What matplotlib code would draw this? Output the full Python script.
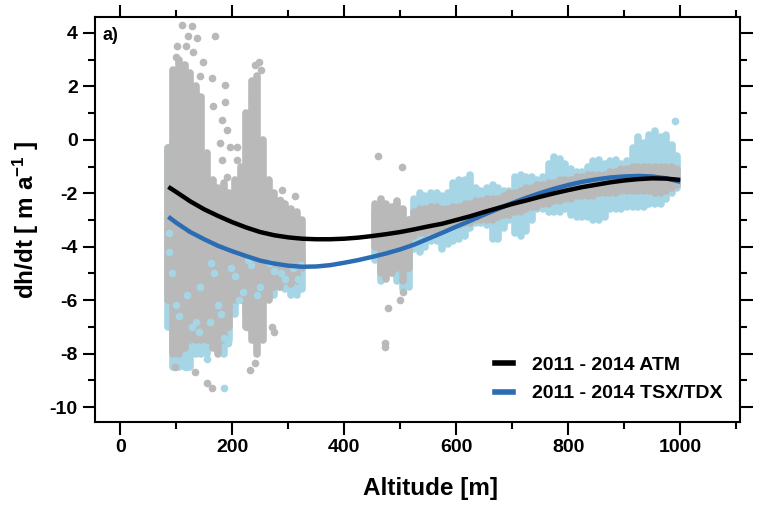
import matplotlib as mpl
mpl.use('Agg')
import numpy as np
import matplotlib.pyplot as plt
from matplotlib.lines import Line2D

plt.rcParams['font.family'] = ['Liberation Sans', 'DejaVu Sans']
plt.rcParams['font.weight'] = 'bold'
plt.rcParams['mathtext.default'] = 'regular'
plt.rcParams['axes.unicode_minus'] = False

# dense point clouds read per altitude column: altitude [m], lowest / highest dh/dt
atm_alt = [85, 95, 105, 115, 125, 135, 145, 155, 165, 175, 185, 195, 205, 215, 225, 235, 245, 255,
           265, 275, 285, 295, 305, 315, 325,
           455, 465, 475, 485, 495, 505, 515,
           525, 535, 545, 555, 565, 575, 585, 595, 605, 615, 625, 635, 645, 655, 665, 675, 685,
           695, 705, 715, 725, 735, 745, 755, 765, 775, 785, 795, 805, 815, 825, 835, 845, 855,
           865, 875, 885, 895, 905, 915, 925, 935, 945, 955, 965, 975, 985, 995]
atm_lo = [-6.0, -8.0, -8.0, -7.8, -7.5, -7.5, -7.5, -7.5, -7.8, -8.0, -7.5, -7.0, -6.0, -6.0, -7.0, -7.5, -8.0, -7.5,
          -6.0, -5.5, -5.5, -5.3, -5.4, -5.3, -4.8,
          -4.0, -5.0, -5.2, -5.0, -4.8, -5.3, -4.8,
          -3.6, -3.5, -3.5, -3.4, -3.4, -3.3, -3.3, -3.2, -3.2, -3.1, -3.1, -3.0, -3.0, -3.0, -3.0, -2.9, -2.8,
          -2.8, -2.7, -2.7, -2.6, -2.5, -2.5, -2.4, -2.4, -2.3, -2.3, -2.2, -2.2, -2.1, -2.1, -2.1, -2.1, -2.0,
          -2.0, -2.0, -2.0, -1.9, -1.9, -1.9, -1.9, -1.9, -1.9, -2.0, -2.0, -1.9, -1.8, -1.7]
atm_hi = [-0.3, 2.6, 3.0, 2.8, 2.5, 2.0, 1.6, -0.5, -1.5, -1.8, -1.6, -2.0, -1.5, -1.0, 1.0, 2.2, 2.4, 0.0,
          -1.5, -2.0, -2.3, -2.4, -2.6, -2.7, -3.0,
          -2.4, -2.2, -2.4, -2.5, -2.3, -2.6, -3.0,
          -2.7, -2.6, -2.6, -2.5, -2.5, -2.6, -2.6, -2.5, -2.5, -2.4, -2.4, -2.3, -2.3, -2.2, -2.2, -2.2, -2.1,
          -2.0, -2.0, -1.9, -1.8, -1.8, -1.7, -1.7, -1.6, -1.6, -1.5, -1.5, -1.5, -1.4, -1.4, -1.3, -1.3, -1.3,
          -1.3, -1.2, -1.2, -1.1, -1.1, -1.0, -1.0, -1.0, -1.0, -1.0, -1.0, -1.0, -1.0, -1.1]

tsx_alt = [85, 95, 105, 115, 125, 135, 145, 155, 165, 175, 185, 195, 205, 215, 225, 235, 245, 255,
           265, 275, 285, 295, 305, 315, 325,
           455, 465, 475, 485, 495, 505, 515,
           525, 535, 545, 555, 565, 575, 585, 595, 605, 615, 625, 635, 645, 655, 665, 675, 685,
           695, 705, 715, 725, 735, 745, 755, 765, 775, 785, 795, 805, 815, 825, 835, 845, 855,
           865, 875, 885, 895, 905, 915, 925, 935, 945, 955, 965, 975, 985, 995]
tsx_lo = [-7.0, -8.5, -8.5, -8.5, -8.5, -8.0, -8.0, -8.0, -7.5, -7.5, -8.0, -7.5, -6.5, -6.0, -6.5, -6.0, -6.5, -6.0,
          -5.5, -5.8, -5.5, -5.6, -5.8, -5.8, -5.6,
          -4.5, -5.3, -5.0, -5.0, -5.3, -5.6, -5.5,
          -4.1, -4.2, -4.0, -3.8, -3.8, -4.1, -3.9, -3.8, -3.7, -3.6, -3.3, -3.1, -3.1, -3.2, -3.7, -3.7, -3.3,
          -3.0, -3.5, -3.6, -3.4, -3.0, -2.6, -2.6, -2.7, -2.7, -2.7, -2.6, -2.8, -2.9, -2.9, -2.9, -3.0, -3.0,
          -2.9, -2.6, -2.6, -2.6, -2.5, -2.5, -2.5, -2.5, -2.4, -2.4, -2.4, -2.2, -2.0, -1.8]
tsx_hi = [-0.3, 0.0, 0.0, -0.5, -1.0, -2.0, -3.0, -3.5, -3.5, -3.5, -3.8, -4.0, -3.5, -3.5, -3.5, -3.5, -4.0, -4.0,
          -3.5, -3.8, -4.0, -4.2, -4.0, -4.2, -4.3,
          -2.8, -2.9, -3.2, -3.3, -3.5, -3.5, -3.0,
          -2.2, -2.0, -2.1, -2.0, -2.0, -2.1, -2.0, -1.6, -1.5, -1.5, -1.3, -1.8, -1.9, -1.8, -1.7, -1.8, -1.9,
          -1.9, -1.4, -1.3, -1.4, -1.4, -1.5, -1.4, -0.9, -0.65, -0.7, -0.9, -1.1, -1.2, -1.2, -1.0, -0.8, -0.75,
          -0.9, -0.8, -0.75, -0.9, -0.8, -0.3, 0.1, -0.1, 0.2, 0.35, 0.1, 0.2, -0.2, -0.6]

# blue dots showing through the grey cloud
tsx_spot_alt = [88, 88, 92, 100, 105, 112, 118, 128, 135, 142, 150, 155, 163, 168, 175, 180, 186, 192, 198,
                205, 213, 220, 228, 233, 245, 250, 268, 275, 288, 295, 308, 318, 322, 140, 120, 160]
tsx_spot_val = [-3.5, -4.2, -5.0, -6.2, -6.6, -8.3, -8.5, -7.0, -6.8, -5.5, -7.8, -8.2, -4.6, -5.0, -6.2, -6.5,
                -7.4, -7.6, -4.8, -5.1, -6.0, -5.7, -4.5, -4.7, -5.8, -5.5, -4.6, -4.9, -5.0, -5.2, -4.8, -5.2,
                -4.7, -7.2, -5.8, -6.8]

# scattered single points
atm_pts_alt = [110, 128, 121, 137, 170, 102, 148, 164, 188, 188, 166, 182, 191, 179, 196, 182, 209, 191, 218,
               247, 238, 236, 209, 289, 312, 286, 300, 98, 134, 155, 164, 232, 241, 227, 205, 271, 274,
               461, 503, 479, 505, 500, 473, 473, 100, 118, 130, 142, 240, 252]
atm_pts_val = [4.3, 4.27, 3.9, 3.8, 3.9, 3.5, 2.9, 2.3, 2.06, 1.4, 1.25, 0.75, 0.37, -0.1, -0.25, -0.75, -0.75, -1.4, -1.25,
               2.9, 2.1, 1.5, -0.25, -1.87, -2.1, -2.25, -3.0, -8.5, -8.7, -9.1, -9.3, -8.6, -8.35, -7.0, -5.9, -7.0, -7.2,
               -0.6, -1.0, -6.3, -5.7, -6.0, -7.6, -7.75, 3.1, 3.5, 3.3, 2.4, 2.8, 2.6]
tsx_pts_alt = [186, 990]
tsx_pts_val = [-9.3, 0.7]

# fitted curves
fit_alt = [86, 100, 125, 150, 175, 200, 225, 250, 275, 300, 325, 350, 375, 400, 425, 450, 475, 500, 525,
           550, 575, 600, 625, 650, 675, 700, 725, 750, 775, 800, 825, 850, 875, 900, 925, 950, 975, 1000]
atm_fit = [-1.76, -1.95, -2.3, -2.6, -2.85, -3.08, -3.28, -3.45, -3.57, -3.65, -3.7, -3.72, -3.72, -3.7, -3.66,
           -3.6, -3.53, -3.45, -3.35, -3.24, -3.14, -3.0, -2.86, -2.7, -2.55, -2.4, -2.27, -2.13, -2.0, -1.88,
           -1.77, -1.68, -1.59, -1.52, -1.47, -1.44, -1.45, -1.5]
tsx_fit = [-2.88, -3.1, -3.45, -3.72, -3.97, -4.17, -4.35, -4.52, -4.63, -4.71, -4.75, -4.74, -4.69, -4.6, -4.5,
           -4.38, -4.25, -4.1, -3.92, -3.7, -3.48, -3.25, -3.03, -2.8, -2.58, -2.37, -2.17, -1.99, -1.83, -1.69,
           -1.57, -1.48, -1.41, -1.37, -1.35, -1.37, -1.44, -1.57]

grey = '#b9b9b9'
lblue = '#a6d6e6'
dblue = '#2b6cb3'
dot_lw = 5.5

fig = plt.figure(figsize=(7.68, 5.05), dpi=100)
ax = fig.add_axes([0.1237, 0.1644, 0.84, 0.802])

ax.vlines(tsx_alt, tsx_lo, tsx_hi, color=lblue, lw=dot_lw, capstyle='round', zorder=1)
ax.scatter(tsx_pts_alt, tsx_pts_val, s=dot_lw**2, color=lblue, lw=0, zorder=1)
ax.vlines(atm_alt, atm_lo, atm_hi, color=grey, lw=dot_lw, capstyle='round', zorder=2)
ax.scatter(atm_pts_alt, atm_pts_val, s=dot_lw**2, color=grey, lw=0, zorder=2)
ax.scatter(tsx_spot_alt, tsx_spot_val, s=dot_lw**2, color=lblue, lw=0, zorder=3)

ax.plot(fit_alt, atm_fit, color='black', lw=3.2, solid_capstyle='butt', zorder=5)
ax.plot(fit_alt, tsx_fit, color=dblue, lw=3.2, solid_capstyle='butt', zorder=4)

ax.set_xlim(-45, 1107)
ax.set_ylim(-10.56, 4.6)
ax.set_xticks(np.arange(0, 1001, 200))
ax.set_xticks(np.arange(100, 1101, 200), minor=True)
ax.set_yticks(np.arange(-10, 5, 2))
ax.set_yticks(np.arange(-9, 5, 2), minor=True)
ax.tick_params(which='both', direction='out', width=1.5, top=True, right=True, labelsize=14)
ax.tick_params(which='major', length=9)
ax.tick_params(which='minor', length=5)
for s in ax.spines.values():
    s.set_linewidth(1.5)

ax.set_xlabel('Altitude [m]', fontsize=17.5, fontweight='bold')
ax.xaxis.set_label_coords(0.52, -0.135)
ax.set_ylabel(r'dh/dt [ m a$^{-1}$ ]', fontsize=17.5, fontweight='bold', labelpad=6)
ax.text(0.012, 0.975, 'a)', transform=ax.transAxes, fontsize=13, fontweight='bold', va='top', ha='left')

handles = [Line2D([], [], color='black', lw=4), Line2D([], [], color=dblue, lw=4)]
ax.legend(handles, ['2011 - 2014 ATM', '2011 - 2014 TSX/TDX'], loc='lower right',
          bbox_to_anchor=(1.0, 0.005), frameon=False, handlelength=0.9, handletextpad=1.0,
          prop={'size': 14, 'weight': 'bold'}, labelspacing=0.55)

fig.savefig('out.png', dpi=100)
